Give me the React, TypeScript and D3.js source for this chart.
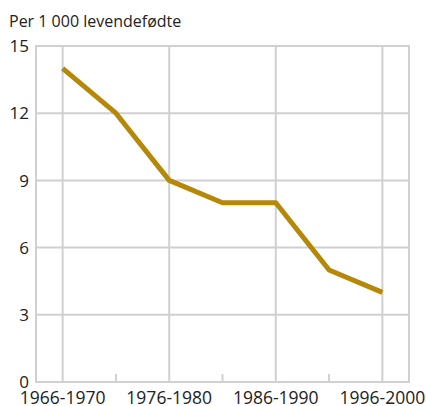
import React from "react";
import * as d3 from "d3";

const categories = ["1966-1970", "1971-1975", "1976-1980", "1981-1985", "1986-1990", "1991-1995", "1996-2000"];
const values = [14, 12, 9, 8, 8, 5, 4];
const yTicks = [0, 3, 6, 9, 12, 15];
const labelledCategories = ["1966-1970", "1976-1980", "1986-1990", "1996-2000"];
const unitLabel = "Per 1 000 levendefødte";

const W = 426;
const H = 406;
const M = { left: 36, right: 17, top: 46, bottom: 24 };
const FONT = "'Open Sans', sans-serif";
const GRID = "#d0d0d0";
const LINE = "#b5880a";

export default function App() {
  const x = d3.scalePoint<string>().domain(categories).range([M.left, W - M.right]).padding(0.5);
  const y = d3.scaleLinear().domain([0, 15]).range([H - M.bottom, M.top]);
  const line = d3
    .line<number>()
    .x((_, i) => x(categories[i]) as number)
    .y((d) => y(d));
  const x0 = M.left;
  const x1 = W - M.right;
  const yb = y(0);
  const yt = y(15);
  return (
    <svg width={W} height={H} style={{ position: "absolute", left: 0, top: 0 }} fontFamily={FONT}>
      <text x={9} y={27} fontSize={16} fill="#222">{unitLabel}</text>
      {yTicks.map((t) => (
        <line key={"h" + t} x1={x0} x2={x1} y1={y(t)} y2={y(t)} stroke={GRID} strokeWidth={2} />
      ))}
      {categories.map((c) =>
        labelledCategories.includes(c) ? (
          <line key={"v" + c} x1={x(c)} x2={x(c)} y1={yt} y2={yb} stroke={GRID} strokeWidth={2} />
        ) : (
          <line key={"t" + c} x1={x(c)} x2={x(c)} y1={yb - 8} y2={yb} stroke={GRID} strokeWidth={2} />
        )
      )}
      <line x1={x0} x2={x0} y1={yt - 1} y2={yb + 1} stroke={GRID} strokeWidth={2} />
      <line x1={x1} x2={x1} y1={yt - 1} y2={yb + 1} stroke={GRID} strokeWidth={2} />
      {yTicks.map((t) => (
        <text key={"yl" + t} x={29} y={y(t)} dy="0.36em" textAnchor="end" fontSize={17} fill="#222">
          {t}
        </text>
      ))}
      {labelledCategories.map((c) => (
        <text key={"xl" + c} x={x(c)} y={403.5} textAnchor="middle" fontSize={17.5} fill="#222">
          {c}
        </text>
      ))}
      <path d={line(values) || ""} fill="none" stroke={LINE} strokeWidth={5} strokeLinejoin="round" strokeLinecap="butt" />
    </svg>
  );
}
